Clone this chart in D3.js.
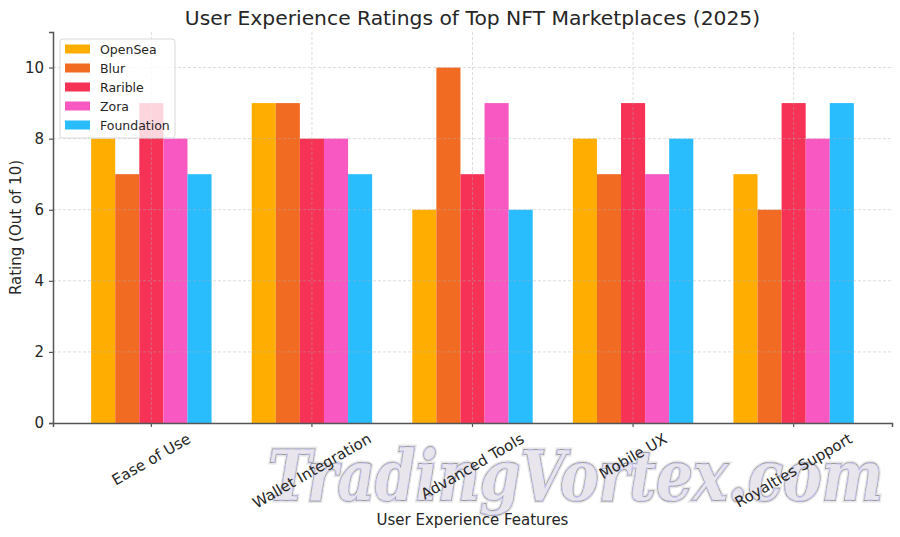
<!DOCTYPE html>
<html>
<head>
<meta charset="utf-8">
<script src="https://cdn.jsdelivr.net/npm/d3@7"></script>
<style>
  body { margin: 0; background: #fff; }
  text { font-family: "DejaVu Sans", sans-serif; fill: #262626; }
</style>
</head>
<body>
<script>
// Data
const features = ["Ease of Use", "Wallet Integration", "Advanced Tools", "Mobile UX", "Royalties Support"];
const marketplaces = ["OpenSea", "Blur", "Rarible", "Zora", "Foundation"];
const openSea = [8, 9, 6, 8, 7];
const blur = [7, 9, 10, 7, 6];
const rarible = [9, 8, 7, 9, 9];
const zora = [8, 8, 9, 7, 8];
const foundation = [7, 7, 6, 8, 9];
const yTicks = [0, 2, 4, 6, 8, 10];
const colors = ["#FFAE00", "#F26B22", "#F63256", "#F858C2", "#29BDFE"];

const series = [openSea, blur, rarible, zora, foundation];

const width = 900, height = 537;
const margin = { top: 32, right: 8, bottom: 114, left: 53 };

const svg = d3.select("body").append("svg")
  .attr("width", width)
  .attr("height", height);

// Scales
const x = d3.scaleBand()
  .domain(features)
  .range([margin.left, width - margin.right])
  .paddingInner(0.25)
  .paddingOuter(0.2375);

const xInner = d3.scaleBand()
  .domain(marketplaces)
  .range([0, x.bandwidth()]);

const y = d3.scaleLinear()
  .domain([0, 11])
  .range([height - margin.bottom, margin.top]);

// Watermark (sits under the labels)
const wm = (fill, stroke, sw, dash) => svg.append("text")
  .attr("x", 268)
  .attr("y", 500)
  .attr("textLength", 615)
  .attr("lengthAdjust", "spacingAndGlyphs")
  .style("font-family", "'DejaVu Serif', serif")
  .style("font-style", "italic")
  .style("font-weight", "bold")
  .style("font-size", "70px")
  .style("fill", fill)
  .style("stroke", stroke)
  .style("stroke-width", sw)
  .style("stroke-dasharray", dash)
  .style("paint-order", "stroke")
  .text("TradingVortex.com");

wm("none", "#e6e6e6", 5, null);
wm("#e8e5ec", "#999", 1.8, null);
wm("none", "#c4c4f2", 1.2, "7,5");

// Bars
const groups = svg.append("g").selectAll("g")
  .data(series)
  .join("g")
  .attr("fill", (d, i) => colors[i]);

groups.selectAll("rect")
  .data((vals, i) => vals.map((v, j) => ({ v, f: features[j], m: marketplaces[i] })))
  .join("rect")
  .attr("x", d => x(d.f) + xInner(d.m))
  .attr("y", d => y(d.v))
  .attr("width", xInner.bandwidth())
  .attr("height", d => y(0) - y(d.v));

// Grid (dashed, faint, over the bars)
const grid = svg.append("g")
  .attr("stroke", "#b0b0b0")
  .attr("stroke-opacity", 0.55)
  .attr("stroke-dasharray", "3,2")
  .attr("stroke-width", 0.8);

grid.selectAll(".hg")
  .data(yTicks.filter(t => t > 0))
  .join("line")
  .attr("x1", margin.left)
  .attr("x2", width - margin.right)
  .attr("y1", d => y(d))
  .attr("y2", d => y(d));

grid.selectAll(".vg")
  .data(features)
  .join("line")
  .attr("x1", d => x(d) + x.bandwidth() / 2)
  .attr("x2", d => x(d) + x.bandwidth() / 2)
  .attr("y1", margin.top)
  .attr("y2", y(0));

// Axes
const yAxis = svg.append("g")
  .attr("transform", `translate(${margin.left},0)`)
  .call(d3.axisLeft(y).tickValues(yTicks).tickSize(4).tickPadding(5));

const xAxis = svg.append("g")
  .attr("transform", `translate(0,${y(0)})`)
  .call(d3.axisBottom(x).tickSize(4).tickFormat(""));

[xAxis, yAxis].forEach(a => {
  a.select(".domain").attr("stroke", "#555").attr("stroke-width", 1.5);
  a.selectAll(".tick line").attr("stroke", "#555").attr("stroke-width", 1.2);
});
yAxis.selectAll(".tick text")
  .style("font-size", "15px")
  .attr("fill", "#262626");

// Rotated category labels, centred on their ticks
features.forEach(f => {
  const cx = x(f) + x.bandwidth() / 2;
  const t = svg.append("text")
    .attr("text-anchor", "middle")
    .attr("dominant-baseline", "central")
    .style("font-size", "15px")
    .text(f);
  const w = t.node().getComputedTextLength();
  const h = 15;
  const bh = w * 0.5 + h * 0.866;
  t.attr("transform", `translate(${cx},${431 + bh / 2}) rotate(-30)`);
});

// Titles
svg.append("text")
  .attr("x", (margin.left + width - margin.right) / 2)
  .attr("y", 25)
  .attr("text-anchor", "middle")
  .style("font-size", "20.3px")
  .text("User Experience Ratings of Top NFT Marketplaces (2025)");

svg.append("text")
  .attr("x", (margin.left + width - margin.right) / 2)
  .attr("y", 525)
  .attr("text-anchor", "middle")
  .style("font-size", "15px")
  .text("User Experience Features");

svg.append("text")
  .attr("transform", `translate(21,${(margin.top + y(0)) / 2}) rotate(-90)`)
  .attr("text-anchor", "middle")
  .style("font-size", "15px")
  .text("Rating (Out of 10)");

// Legend
const legend = svg.append("g").attr("transform", "translate(60,39)");
legend.append("rect")
  .attr("width", 115)
  .attr("height", 99)
  .attr("rx", 3)
  .attr("fill", "#fff")
  .attr("fill-opacity", 0.8)
  .attr("stroke", "#d8d8d8");

marketplaces.forEach((m, i) => {
  const row = legend.append("g").attr("transform", `translate(5,${10 + i * 19})`);
  row.append("rect")
    .attr("width", 25)
    .attr("height", 9)
    .attr("y", -4.5)
    .attr("fill", colors[i]);
  row.append("text")
    .attr("x", 35)
    .attr("dominant-baseline", "central")
    .style("font-size", "12.5px")
    .text(m);
});
</script>
</body>
</html>
